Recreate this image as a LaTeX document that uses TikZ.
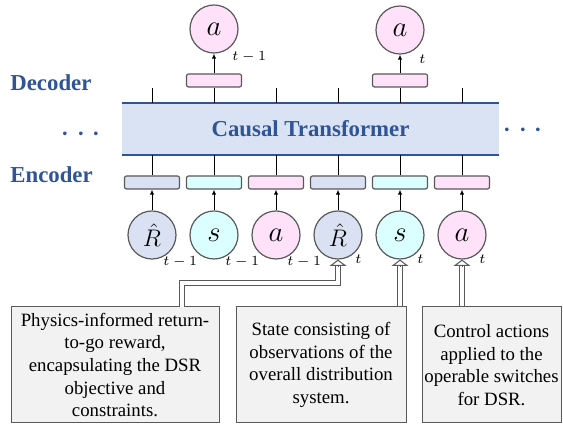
\documentclass[tikz,border=0pt]{standalone}
\usepackage{fontspec}
\setmainfont{Liberation Serif}
\usepackage{amsmath}
\usetikzlibrary{arrows.meta}

\definecolor{tfblue}{HTML}{2F5597}
\definecolor{tffill}{HTML}{DAE3F3}
\definecolor{rtgfill}{HTML}{D9E1F2}
\definecolor{statefill}{HTML}{DBFFFF}
\definecolor{actfill}{HTML}{FFE1FA}
\definecolor{edgegray}{HTML}{595959}
\definecolor{notefill}{HTML}{F2F2F2}

\tikzset{
  tok/.style={draw=edgegray, line width=0.6pt, circle, minimum size=24pt, inner sep=0pt},
  emb/.style={draw=edgegray, line width=0.6pt, rounded corners=1pt, minimum width=27.5pt, minimum height=6.5pt, inner sep=0pt},
  note/.style={draw=edgegray, fill=notefill, line width=0.5pt, align=center, inner sep=0pt, font=\fontsize{9.4}{11.35}\selectfont},
  sub/.style={font=\scriptsize, inner sep=0pt, anchor=west},
  side/.style={font=\fontsize{11.4}{13}\selectfont\bfseries, text=tfblue, anchor=west, inner sep=0pt},
  feed/.style={-{Latex[length=2.5pt,width=2.2pt]}, line width=0.5pt},
  hint/.style={draw=edgegray, double=white, line width=0.5pt, double distance=2.2pt, shorten >=3pt},
  hinttip/.style={draw=edgegray, line width=0.5pt, -{Triangle[open, fill=white, length=3.2pt, width=8.5pt]}},
}

\begin{document}
\begin{tikzpicture}[x=0.5pt, y=-0.5pt]
\useasboundingbox (0,0) rectangle (563,426);

% transformer band
\node[fill=tffill, minimum width=188.5pt, minimum height=26pt, inner sep=0pt,
      font=\fontsize{11.4}{13}\selectfont\bfseries, text=tfblue] (ct) at (310.5,129) {Causal Transformer};
\draw[tfblue, line width=1pt] (ct.north west) -- (ct.north east);
\draw[tfblue, line width=1pt] (ct.south west) -- (ct.south east);
\node[text=tfblue, font=\fontsize{18}{18}\selectfont] (ldots) at (84,135) {$\cdots$};
\node[text=tfblue, font=\fontsize{18}{18}\selectfont] (rdots) at (526,131) {$\cdots$};
\node[side] (dec) at (10,83) {Decoder};
\node[side] (enc) at (10,175) {Encoder};

% input tokens
\node[tok, fill=rtgfill, font=\large] (r1) at (152,235) {$\hat{R}$};
\node[tok, fill=statefill, font=\Large] (r2) at (214,235) {$s$};
\node[tok, fill=actfill, font=\Large] (r3) at (276,235) {$a$};
\node[tok, fill=rtgfill, font=\large] (r4) at (338,235) {$\hat{R}$};
\node[tok, fill=statefill, font=\Large] (r5) at (400,235) {$s$};
\node[tok, fill=actfill, font=\Large] (r6) at (462,235) {$a$};
\node[sub] (l1) at (163,262) {$t-1$};
\node[sub] (l2) at (225,262) {$t-1$};
\node[sub] (l3) at (287,262) {$t-1$};
\node[sub] (l4) at (355,259) {$t$};
\node[sub] (l5) at (417,259) {$t$};
\node[sub] (l6) at (479,259) {$t$};

% embeddings
\node[emb, fill=rtgfill] (e1) at (152,182.5) {};
\node[emb, fill=statefill] (e2) at (214,182.5) {};
\node[emb, fill=actfill] (e3) at (276,182.5) {};
\node[emb, fill=rtgfill] (e4) at (338,182.5) {};
\node[emb, fill=statefill] (e5) at (400,182.5) {};
\node[emb, fill=actfill] (e6) at (462,182.5) {};
\draw[feed] (r1) -- (e1);
\draw[feed] (r2) -- (e2);
\draw[feed] (r3) -- (e3);
\draw[feed] (r4) -- (e4);
\draw[feed] (r5) -- (e5);
\draw[feed] (r6) -- (e6);
\draw (e1.north) -- (ct.south -| e1.north);
\draw (e2.north) -- (ct.south -| e2.north);
\draw (e3.north) -- (ct.south -| e3.north);
\draw (e4.north) -- (ct.south -| e4.north);
\draw (e5.north) -- (ct.south -| e5.north);
\draw (e6.north) -- (ct.south -| e6.north);

% outputs
\node[emb, fill=actfill] (d1) at (214,80.5) {};
\node[emb, fill=actfill] (d2) at (400,80.5) {};
\node[tok, fill=actfill, font=\Large] (o1) at (214,29) {$a$};
\node[tok, fill=actfill, font=\Large] (o2) at (400,30) {$a$};
\node[sub] (m1) at (232,57) {$t-1$};
\node[sub] (m2) at (419,59) {$t$};
\draw (ct.north -| d1.south) -- (d1.south);
\draw (ct.north -| d2.south) -- (d2.south);
\draw[feed] (d1) -- (o1);
\draw[feed] (d2) -- (o2);
\draw (ct.north -| e1) -- ++(0,-15);
\draw (ct.north -| e3) -- ++(0,-15);
\draw (ct.north -| e4) -- ++(0,-15);
\draw (ct.north -| e6) -- ++(0,-15);

% notes
\node[note, minimum width=104pt, minimum height=58pt] (n1) at (115,365) {Physics-informed return-\\to-go reward,\\encapsulating the DSR\\objective and\\constraints.};
\node[note, minimum width=85pt, minimum height=58pt] (n2) at (321,365) {State consisting of\\observations of the\\overall distribution\\system.};
\node[note, minimum width=69.5pt, minimum height=58pt] (n3) at (491.5,365) {Control actions\\applied to the\\operable switches\\for DSR.};
\coordinate (hook1) at (182,307);
\draw[hint] (hook1) -- ++(0,-24) -| (r4);
\draw[hint] (n2.north -| r5) -- (r5);
\draw[hint] (n3.north -| r6) -- (r6);
\draw[hinttip] (r4.south) ++(0,7) -- (r4.south);
\draw[hinttip] (r5.south) ++(0,7) -- (r5.south);
\draw[hinttip] (r6.south) ++(0,7) -- (r6.south);
\end{tikzpicture}
\end{document}
